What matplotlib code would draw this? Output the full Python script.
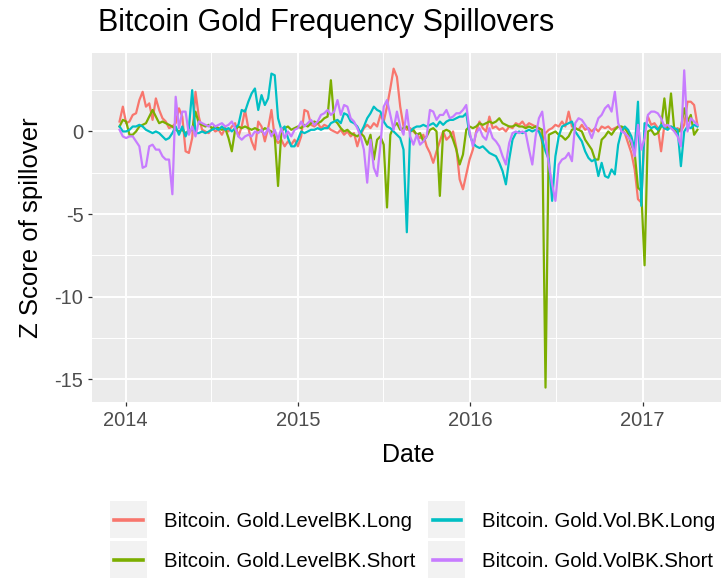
import pandas as pd
import matplotlib
matplotlib.use('Agg')
import matplotlib.pyplot as plt
import matplotlib.dates as mdates
from matplotlib.ticker import MultipleLocator
from matplotlib.legend_handler import HandlerBase
from matplotlib.patches import Rectangle
from matplotlib.lines import Line2D

plt.rcParams['font.family'] = ['Liberation Sans', 'DejaVu Sans']
plt.rcParams['axes.unicode_minus'] = False

# weekly observations, Dec 2013 - Apr 2017
dates = pd.date_range('2013-12-19', periods=176, freq='7D')

level_long = [
    0.6, 1.5, 0.5, 0.6, 1.0, 1.1, 1.9, 2.4, 1.5, 1.7,
    0.7, 2.0, 1.3, 0.8, 0.6, 0.2, 0.3, 0.5, 1.4, 0.9,
    -1.2, -1.3, -0.4, 2.4, 0.9, 0.1, 0.0, -0.1, 0.2, 0.0,
    0.1, -0.2, 0.2, 0.0, 0.3, 0.5, -0.3, 0.3, 1.3, 0.2,
    -0.6, -1.1, 0.6, 0.3, -0.6, 0.2, 1.3, -0.4, -0.7, -0.5,
    -0.9, -0.6, -0.8, -0.5, -0.9, -0.3, 1.3, 1.2, 0.4, 0.3,
    0.5, 0.2, 0.4, 0.3, 0.1, 0.0, -0.1, 0.1, -0.2, 0.0,
    -0.3, -0.1, -0.9, -0.2, 0.2, 0.4, 0.2, 0.5, 0.3, 1.0,
    0.6, 1.5, 2.6, 3.8, 3.3, 1.5, 0.3, 0.1, 0.2, 0.0,
    -0.2, -0.4, -0.2, -0.9, -1.3, -1.9, -1.2, -0.6, 0.0, -0.5,
    -0.3, 0.0, -1.0, -2.9, -3.5, -2.6, -1.7, -1.1, 0.0, 0.6,
    0.2, 0.0, 0.9, 0.2, 0.3, 0.1, 0.2, 0.0, 0.3, 0.2,
    0.5, 0.4, 0.6, 0.3, 0.5, 0.4, 0.3, 0.2, -0.7, -0.1,
    0.1, 0.2, 0.4, 0.3, 0.6, 0.3, 1.2, 0.3, 0.2, 0.1,
    0.4, 0.1, 0.2, 0.0, 0.2, 0.0, 0.3, 0.2, 0.3, 0.1,
    0.2, 0.3, 0.2, -0.1, -0.7, -1.3, -2.3, -4.1, -4.3, -0.1,
    0.9, 0.4, 0.5, 0.2, -1.2, 0.4, 0.2, 0.3, 0.1, 0.2,
    0.0, 0.4, 1.8, 1.8, 1.6, 0.4,
]

level_short = [
    0.3, 0.7, 0.6, -0.2, -0.2, 0.0, 0.3, 0.4, 0.5, 0.9,
    1.3, 0.9, 0.5, 0.6, 0.5, 0.4, 0.3, 0.1, 0.0, 0.1,
    -0.1, 0.0, 0.1, 1.2, 0.5, 0.4, 0.3, 0.4, 0.2, 0.3,
    0.2, 0.1, 0.2, -0.4, -1.2, 0.1, 0.3, 0.2, 0.3, 0.2,
    0.1, 0.2, 0.1, 0.0, 0.2, 0.1, 0.0, -0.3, -3.3, 0.0,
    0.2, 0.3, 0.1, 0.2, 0.3, 0.2, 0.4, 0.3, 0.5, 0.6,
    0.5, 0.6, 0.8, 0.9, 3.1, 0.7, 0.5, 0.2, 0.0, 0.1,
    -0.1, -0.2, -0.3, -0.1, -0.3, -0.8, -0.2, -1.7, -0.5, -0.3,
    -0.8, -4.6, -0.2, 0.3, 0.5, 0.1, 0.2, 0.3, 0.0, 0.1,
    -0.2, -0.1, -0.6, -0.3, 0.1, 0.2, 0.0, -3.9, 0.0, 0.1,
    0.0, -0.5, -1.1, -2.0, -1.4, 0.1, 0.3, 0.2, 0.3, 0.5,
    0.4, 0.5, 0.6, 0.5, 0.6, 0.8, 0.5, 0.4, 0.3, 0.3,
    0.4, 0.3, 0.3, 0.2, 0.3, 0.2, 0.3, 0.2, 0.1, -15.5,
    -0.2, -0.1, 0.0, -0.2, -0.3, -0.5, -0.3, 0.1, 0.2, 0.1,
    0.0, -0.5, -0.8, -1.1, -1.7, -1.7, -0.5, -0.3, 0.0, -0.2,
    0.1, 0.3, 0.3, 0.2, -0.1, -0.8, -1.3, -3.4, -3.6, -8.1,
    0.0, 0.1, -0.2, -0.1, 0.3, 2.0, 0.2, 2.3, 0.1, -0.1,
    0.2, 1.4, 0.6, 1.0, -0.2, 0.1,
]

vol_long = [
    0.3, 0.0, 0.0, 0.1, 0.3, 0.3, 0.4, 0.3, 0.1, 0.0,
    -0.1, 0.0, -0.1, -0.3, -0.5, -0.4, -0.1, 0.3, -0.2, 0.3,
    -0.3, 0.2, 2.5, -0.1, -0.1, 0.0, -0.1, 0.0, 0.1, 0.2,
    0.1, 0.3, 0.1, 0.2, 0.0, 0.2, 0.4, 1.3, 1.2, 1.8,
    2.3, 2.6, 1.3, 2.2, 1.6, 2.0, 3.5, 3.4, 0.8, 0.1,
    0.3, -0.4, -0.9, -0.9, -0.5, 0.0, -0.1, 0.0, 0.1, 0.1,
    0.2, 0.1, 0.2, 0.2, 0.5, 0.6, 0.7, 0.5, 1.1, 1.0,
    0.6, 0.5, 0.3, -0.1, 0.3, 0.8, 1.1, 1.5, 1.3, 1.2,
    0.6, 0.3, 0.2, 0.0, -0.2, -0.4, -1.1, -6.1, 0.0, 0.2,
    0.3, 0.3, 0.4, 0.3, 0.4, 0.5, 0.3, 0.6, 0.4, 0.6,
    0.7, 0.7, 0.8, 0.9, 0.9, 1.1, -0.2, -0.7, -0.9, -1.0,
    -0.9, -1.1, -1.3, -1.4, -1.5, -1.9, -2.4, -3.2, -1.7, -0.5,
    -0.1, 0.0, -0.1, 0.0, 0.1, 0.0, 0.1, 0.0, -0.5, -1.2,
    -1.7, -4.2, -1.5, -0.3, 0.3, 0.4, 0.5, 0.6, 0.0, -0.3,
    -0.6, -1.2, -1.6, -1.8, -1.7, -2.7, -1.9, -2.7, -2.8, -2.3,
    -2.6, -0.8, 0.0, 0.3, 0.1, -0.3, -1.1, 1.8, -4.5, 0.5,
    0.4, 0.2, 0.3, 0.1, 0.4, 0.2, 0.1, 0.3, 0.2, 0.1,
    -2.1, 0.0, 0.3, 0.2, 0.4, 0.3,
]

vol_short = [
    0.1, -0.3, -0.4, -0.3, -0.3, -0.6, -0.9, -2.2, -2.1, -0.9,
    -0.8, -1.1, -1.1, -1.5, -1.7, -1.7, -3.8, 2.1, 0.2, 1.2,
    1.2, -0.2, 0.3, -0.3, 0.6, 0.5, 0.4, 0.3, 0.5, 0.3,
    0.4, 0.5, 0.3, 0.4, 0.6, 0.2, -0.3, -0.5, -0.3, -0.2,
    -0.3, 0.0, -0.1, 0.1, -0.2, 0.2, -0.3, 0.1, -0.5, 0.2,
    -0.4, 0.0, -0.3, 0.1, 0.2, 0.6, 0.3, 0.5, 0.7, 0.4,
    0.6, 1.0, 1.1, 1.3, 1.0, 1.2, 1.9, 1.0, 1.6, 1.5,
    0.8, 0.6, 0.2, -0.3, -1.1, -3.1, -0.5, -2.2, -2.7, -0.8,
    1.5, 1.9, 1.0, 0.1, 1.2, 0.3, -0.2, 1.3, -0.3, -0.8,
    -0.2, -0.8, -0.6, -0.3, 1.3, 1.2, 0.7, 1.0, 1.0, 1.3,
    0.8, 0.9, 1.1, 1.1, 1.3, 1.6, 0.0, -0.9, -0.1, 0.2,
    -0.3, -0.5, 0.2, -0.4, -0.6, -0.9, -1.5, -2.0, -0.7, -0.1,
    0.0, -0.1, 0.0, -0.1, -1.1, -2.0, -0.3, 0.8, 1.2, -0.5,
    -2.0, -3.2, -4.2, -2.0, -1.7, -1.6, -1.3, -1.8, 0.5, 0.8,
    0.7, 0.4, 0.1, -0.4, 0.2, 0.8, 1.0, 1.4, 1.6, 1.2,
    2.4, 0.5, 0.0, -0.1, -0.3, -0.6, -1.5, 0.4, -1.1, -0.4,
    1.0, 1.2, 1.2, 1.1, 0.8, 0.3, 0.4, 0.2, 0.0, -0.3,
    -0.9, 3.7, 0.0, 0.8, 0.6, 0.4,
]

labels = ['Bitcoin. Gold.LevelBK.Long', 'Bitcoin. Gold.LevelBK.Short',
          'Bitcoin. Gold.Vol.BK.Long', 'Bitcoin. Gold.VolBK.Short']
colors = ['#F8766D', '#7CAE00', '#00BFC4', '#C77CFF']
series = [level_long, level_short, vol_long, vol_short]


# ggplot-like legend key: grey square with a short line, centred on the text
class KeyBox(HandlerBase):
    def create_artists(self, legend, orig_handle, xdescent, ydescent,
                       width, height, fontsize, trans):
        c = 0.36 * fontsize
        box = Rectangle((-xdescent, c - width / 2), width, width,
                        facecolor='#F2F2F2', edgecolor='none', transform=trans)
        ln = Line2D([-xdescent + 0.12 * width, -xdescent + 0.88 * width], [c, c],
                    color=orig_handle.get_color(), lw=2.6, transform=trans)
        return [box, ln]


fig = plt.figure(figsize=(7.21, 5.78), dpi=100)
ax = fig.add_axes([0.1272, 0.304, 0.8728, 0.6038])
ax.set_facecolor('#EBEBEB')

lines = []
for vals, c, lab in zip(series, colors, labels):
    l, = ax.plot(dates, vals, color=c, lw=1.6, label=lab)
    lines.append(l)

ax.set_xlim(pd.Timestamp('2013-10-21'), pd.Timestamp('2017-06-16'))
ax.set_ylim(-16.39, 4.73)

ax.xaxis.set_major_locator(mdates.YearLocator())
ax.xaxis.set_major_formatter(mdates.DateFormatter('%Y'))
ax.xaxis.set_minor_locator(mdates.MonthLocator(bymonth=7))
ax.yaxis.set_major_locator(MultipleLocator(5))
ax.yaxis.set_minor_locator(MultipleLocator(2.5))

ax.grid(which='major', color='white', lw=1.4)
ax.grid(which='minor', color='white', lw=0.7)
ax.set_axisbelow(True)
for s in ax.spines.values():
    s.set_visible(False)

ax.tick_params(which='major', length=3, width=0.9, color='#333333',
               labelcolor='#4D4D4D', labelsize=14.5, pad=3)
ax.tick_params(which='minor', length=0)

fig.text(98 / 721, 1 - 31 / 578, 'Bitcoin Gold Frequency Spillovers',
         fontsize=22, color='black', ha='left', va='baseline')
fig.text(31 / 721, 1 - 228 / 578, 'Z Score of spillover', fontsize=18.5,
         rotation=90, ha='center', va='center')
fig.text(408 / 721, 1 - 455 / 578, 'Date', fontsize=18, ha='center', va='center')

fig.legend(handles=lines, labels=labels, ncol=2, loc='upper left',
           bbox_to_anchor=(110 / 721, 1 - 506 / 578), frameon=False,
           fontsize=14.7, handler_map={Line2D: KeyBox()},
           handlelength=1.81, handleheight=1.81, handletextpad=0.83,
           columnspacing=0.64, labelspacing=0.54, borderpad=0, borderaxespad=0)

fig.savefig('out.png', dpi=100)
